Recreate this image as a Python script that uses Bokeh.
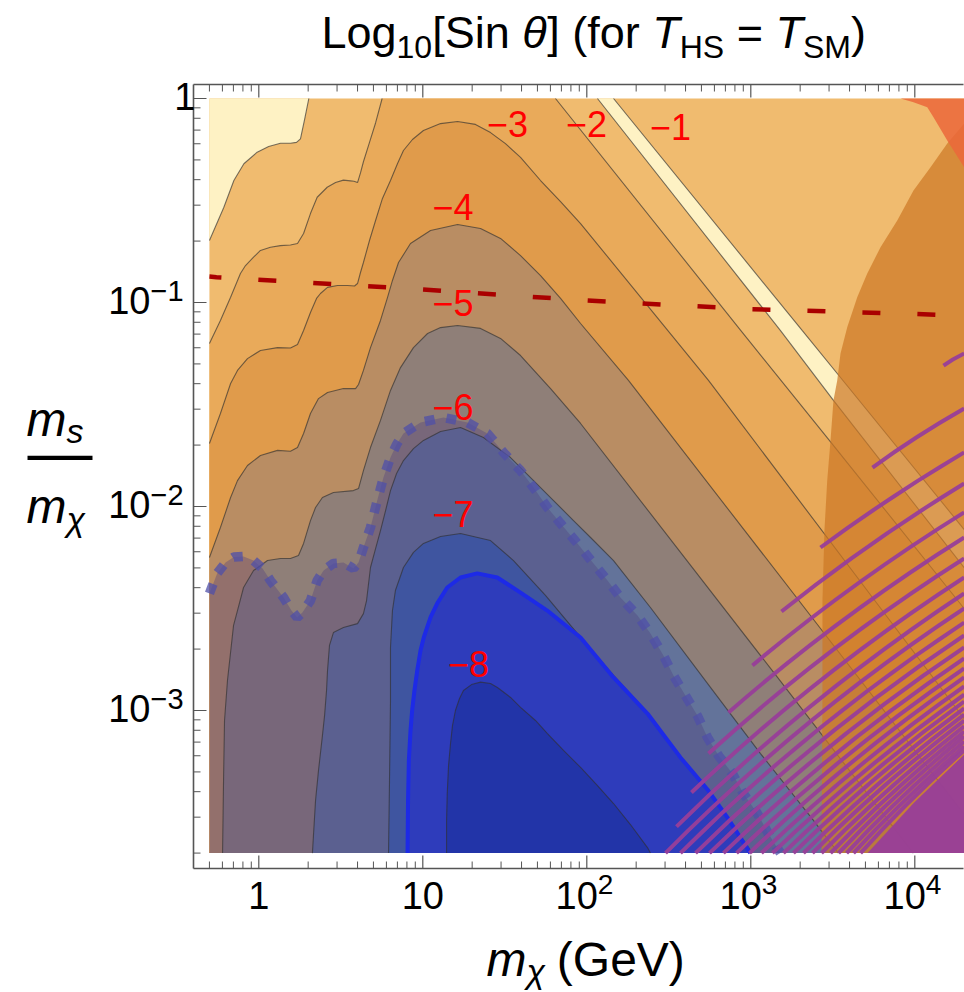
import numpy as np
from bokeh.plotting import figure
from bokeh.models import Range1d, Label
from bokeh.embed import file_html
from bokeh.resources import INLINE

# ---------------------------------------------------------------
# DATA  (all curves as (log10 m_chi [GeV], log10 m_s/m_chi) pairs)
# ---------------------------------------------------------------
X_EDGE = (-0.301, 4.301)      # m_chi 0.5 ... 2e4 GeV
Y_EDGE = (-3.699, 0.0)        # m_s/m_chi 2e-4 ... 1

X_MAJOR = [1, 10, 100, 1000, 10000]
X_MINOR = [0.5, 0.6, 0.7, 0.8, 0.9] + [k * 10 ** d for d in range(0, 4) for k in range(2, 10)]
Y_MAJOR = [1e-3, 1e-2, 1e-1, 1]
Y_MINOR = [k * 10.0 ** d for d in range(-4, 0) for k in range(2, 10)]

BOTTOM_TICK_LABELS = [(1, "1", ""), (10, "10", ""), (100, "10", "2"), (1000, "10", "3"), (10000, "10", "4")]
LEFT_TICK_LABELS = [(1, "1", ""), (0.1, "10", "\u22121"), (0.01, "10", "\u22122"), (0.001, "10", "\u22123")]

C_M1_LEFT = [(0.305, 0.0), (0.280, -0.100), (0.254, -0.198), (0.230, -0.215), (0.193, -0.219),
             (0.132, -0.219), (0.060, -0.235), (-0.010, -0.263), (-0.091, -0.320), (-0.152, -0.402),
             (-0.213, -0.533), (-0.301, -0.696)]
C_M1_RIGHT = [(2.065, 0.0), (3.180, -1.137), (3.504, -1.480), (4.301, -2.300)]
C_STRIPE_EDGE = [(2.163, 0.0), (3.313, -1.137), (3.527, -1.348), (4.301, -2.113)]

C_M2_LEFT = [(0.752, 0.0), (0.712, -0.120), (0.675, -0.215), (0.638, -0.310), (0.620, -0.365),
             (0.602, -0.412), (0.580, -0.406), (0.559, -0.404), (0.516, -0.400), (0.468, -0.412),
             (0.417, -0.435), (0.356, -0.484), (0.315, -0.564), (0.273, -0.662), (0.236, -0.711),
             (0.193, -0.718), (0.132, -0.721), (0.071, -0.729), (0.010, -0.745), (-0.032, -0.778),
             (-0.081, -0.819), (-0.112, -0.858), (-0.172, -0.974), (-0.234, -1.088), (-0.301, -1.201)]
C_M2_RIGHT = [(1.809, 0.0), (2.937, -1.135), (3.468, -1.665), (4.301, -2.500)]

C_M3 = [(-0.301, -1.691), (-0.234, -1.544), (-0.172, -1.397), (-0.130, -1.333), (-0.069, -1.275),
        (0.010, -1.235), (0.114, -1.221), (0.193, -1.223), (0.236, -1.206), (0.273, -1.137),
        (0.315, -1.049), (0.352, -0.980), (0.376, -0.956), (0.419, -0.926), (0.480, -0.917),
        (0.541, -0.917), (0.584, -0.919), (0.602, -0.907), (0.620, -0.853), (0.638, -0.804),
        (0.675, -0.696), (0.712, -0.598), (0.754, -0.490), (0.803, -0.402), (0.846, -0.319),
        (0.882, -0.255), (0.937, -0.201), (1.004, -0.157), (1.108, -0.123), (1.212, -0.113),
        (1.321, -0.127), (1.413, -0.167), (1.504, -0.221), (1.596, -0.289), (1.718, -0.402),
        (1.840, -0.505), (1.962, -0.613), (2.742, -1.382), (3.742, -2.446), (4.301, -3.040)]

C_M4 = [(-0.301, -2.250), (-0.234, -2.103), (-0.172, -1.956), (-0.130, -1.873), (-0.069, -1.799),
        (0.010, -1.750), (0.114, -1.725), (0.193, -1.729), (0.236, -1.711), (0.273, -1.642),
        (0.315, -1.544), (0.364, -1.471), (0.419, -1.441), (0.516, -1.422), (0.590, -1.422),
        (0.608, -1.402), (0.638, -1.333), (0.681, -1.221), (0.742, -1.088), (0.785, -0.975),
        (0.815, -0.892), (0.852, -0.804), (0.925, -0.711), (1.047, -0.647), (1.212, -0.618),
        (1.352, -0.637), (1.474, -0.686), (1.596, -0.770), (1.718, -0.868), (1.840, -0.980),
        (1.962, -1.103), (2.254, -1.382), (3.425, -2.598), (4.301, -3.509)]

C_M5 = [(-0.221, -3.699), (-0.215, -3.343), (-0.209, -3.049), (-0.191, -2.853), (-0.154, -2.583),
        (-0.130, -2.510), (-0.093, -2.397), (-0.032, -2.314), (0.053, -2.265), (0.132, -2.255),
        (0.193, -2.255), (0.242, -2.240), (0.273, -2.181), (0.315, -2.069), (0.346, -2.005),
        (0.388, -1.956), (0.455, -1.931), (0.577, -1.922), (0.608, -1.912), (0.638, -1.824),
        (0.681, -1.711), (0.742, -1.578), (0.803, -1.431), (0.864, -1.319), (0.943, -1.221),
        (1.029, -1.152), (1.108, -1.123), (1.212, -1.113), (1.352, -1.127), (1.474, -1.176),
        (1.596, -1.260), (1.779, -1.422), (1.962, -1.593), (3.163, -2.838), (3.991, -3.699)]

C_M6 = [(0.327, -3.699), (0.346, -3.441), (0.364, -3.294), (0.388, -3.123), (0.401, -3.025),
        (0.413, -2.902), (0.419, -2.804), (0.431, -2.681), (0.455, -2.618), (0.516, -2.593),
        (0.602, -2.574), (0.638, -2.525), (0.657, -2.461), (0.681, -2.299), (0.712, -2.206),
        (0.742, -2.118), (0.773, -2.020), (0.803, -1.922), (0.840, -1.838), (0.882, -1.775),
        (0.943, -1.716), (1.004, -1.676), (1.108, -1.632), (1.230, -1.613), (1.370, -1.662),
        (1.535, -1.760), (1.718, -1.907), (1.919, -2.069), (2.023, -2.152), (2.163, -2.265),
        (2.388, -2.495), (2.754, -2.887), (3.059, -3.211), (3.382, -3.539), (3.534, -3.699)]

C_M7 = [(0.791, -3.699), (0.797, -3.343), (0.803, -2.951), (0.803, -2.691), (0.815, -2.510),
        (0.833, -2.412), (0.882, -2.299), (0.943, -2.225), (1.004, -2.181), (1.108, -2.147),
        (1.230, -2.132), (1.413, -2.167), (1.553, -2.265), (1.748, -2.436), (1.943, -2.623),
        (2.163, -2.828), (2.370, -3.010), (2.571, -3.225), (2.736, -3.382), (2.858, -3.525),
        (3.010, -3.699)]

C_BLUE = [(0.907, -3.699), (0.910, -3.441), (0.915, -3.245), (0.925, -3.098), (0.935, -3.000),
          (0.949, -2.902), (0.966, -2.804), (0.986, -2.706), (1.006, -2.642), (1.047, -2.544),
          (1.088, -2.475), (1.149, -2.397), (1.230, -2.348), (1.332, -2.328), (1.454, -2.348),
          (1.596, -2.422), (1.759, -2.510), (1.962, -2.642), (2.163, -2.838), (2.370, -3.015),
          (2.571, -3.230), (2.736, -3.387), (2.858, -3.525), (2.997, -3.699)]

C_M8 = [(1.145, -3.699), (1.145, -3.539), (1.149, -3.407), (1.157, -3.270), (1.169, -3.162),
        (1.181, -3.074), (1.199, -3.000), (1.224, -2.941), (1.248, -2.902), (1.297, -2.873),
        (1.352, -2.861), (1.413, -2.868), (1.455, -2.887), (1.535, -2.936), (1.596, -2.985),
        (1.687, -3.049), (1.760, -3.113), (1.858, -3.196), (1.962, -3.279), (2.065, -3.368),
        (2.163, -3.456), (2.266, -3.559), (2.370, -3.672), (2.388, -3.699)]

DOTTED = [(-0.301, -2.426), (-0.254, -2.328), (-0.203, -2.275), (-0.152, -2.248), (-0.093, -2.245),
          (-0.032, -2.265), (0.023, -2.304), (0.071, -2.363), (0.151, -2.446), (0.199, -2.510),
          (0.234, -2.544), (0.266, -2.520), (0.315, -2.461), (0.356, -2.363), (0.395, -2.314),
          (0.455, -2.279), (0.516, -2.275), (0.577, -2.304), (0.608, -2.275), (0.638, -2.201),
          (0.681, -2.103), (0.722, -1.971), (0.760, -1.858), (0.803, -1.760), (0.840, -1.696),
          (0.882, -1.642), (0.986, -1.588), (1.126, -1.564), (1.272, -1.588), (1.394, -1.642),
          (1.492, -1.735), (1.596, -1.824), (1.675, -1.907), (1.760, -2.005), (1.840, -2.083),
          (1.943, -2.181), (2.041, -2.279), (2.126, -2.363), (2.205, -2.446), (2.309, -2.534),
          (2.388, -2.623), (2.467, -2.730), (2.528, -2.828), (2.601, -2.926), (2.674, -3.025),
          (2.736, -3.132), (2.803, -3.221), (2.888, -3.309), (2.955, -3.407), (3.040, -3.505),
          (3.107, -3.603), (3.180, -3.699)]

DASHED = [(-0.301, -0.873), (-0.258, -0.876), (0.998, -0.936), (1.992, -0.990), (2.986, -1.032),
          (3.992, -1.056), (4.301, -1.066)]

RIGHT_REGION_EDGE = [(4.301, -0.123), (4.198, -0.221), (4.096, -0.337), (3.992, -0.451), (3.893, -0.598),
                     (3.791, -0.729), (3.710, -0.858), (3.649, -0.974), (3.588, -1.121), (3.547, -1.250),
                     (3.527, -1.382), (3.504, -1.480), (3.486, -1.676), (3.466, -1.873), (3.449, -2.118),
                     (3.437, -2.461), (3.437, -2.951), (3.431, -3.699)]

CORNER_REGION_EDGE = [(3.913, 0.0), (3.992, -0.018), (4.076, -0.043), (4.114, -0.092), (4.198, -0.206),
                      (4.301, -0.337)]

ARC_START = [(4.175, -1.309), (3.742, -1.809), (3.425, -2.201), (3.187, -2.515), (3.010, -2.779),
             (2.864, -3.010), (2.742, -3.211), (2.638, -3.402), (2.547, -3.569), (2.480, -3.699),
             (2.571, -3.699), (2.663, -3.699), (2.748, -3.699), (2.833, -3.699), (2.913, -3.699),
             (2.992, -3.699), (3.065, -3.699), (3.132, -3.699), (3.199, -3.699), (3.260, -3.699),
             (3.321, -3.699), (3.376, -3.699), (3.431, -3.699), (3.486, -3.699), (3.535, -3.699),
             (3.584, -3.699), (3.626, -3.699), (3.669, -3.699)]
ARC_MID = [(4.233, -1.279), (4.013, -1.660), (3.852, -1.961), (3.728, -2.189), (3.635, -2.388),
           (3.558, -2.560), (3.493, -2.708), (3.436, -2.846), (3.386, -2.965), (3.350, -3.063),
           (3.399, -3.101), (3.448, -3.136), (3.494, -3.169), (3.540, -3.198), (3.581, -3.225),
           (3.623, -3.249), (3.662, -3.273), (3.697, -3.295), (3.732, -3.313), (3.763, -3.331),
           (3.795, -3.348), (3.823, -3.363), (3.852, -3.379), (3.880, -3.392), (3.905, -3.405),
           (3.930, -3.418), (3.952, -3.431), (3.974, -3.442)]
ARC_END = [(4.301, v) for v in
           [-1.250, -1.520, -1.735, -1.887, -2.029, -2.152, -2.255, -2.348, -2.426, -2.500,
            -2.569, -2.632, -2.691, -2.745, -2.794, -2.838, -2.882, -2.922, -2.956, -2.990,
            -3.020, -3.049, -3.078, -3.103, -3.127, -3.152, -3.176, -3.196]]
ARC_SOLID = [(3.712, -3.699), (3.996, -3.451), (4.301, -3.216), (4.301, -3.699)]

CONTOUR_LABELS = ["\u22121", "\u22122", "\u22123", "\u22124", "\u22125", "\u22126", "\u22127", "\u22128"]
CONTOUR_LABEL_POS = [(2.510, -0.142), (1.998, -0.127), (1.517, -0.123), (1.184, -0.532),
                     (1.184, -1.000), (1.184, -1.510), (1.184, -2.039), (1.279, -2.770)]

# ---------------------------------------------------------------
# LAYOUT / STYLE
# ---------------------------------------------------------------
W, H = 964, 992
PX_X1, PX_DEC_X = 258.3, 164.0   # pixel column of m_chi = 1 GeV, pixels per decade
PX_Y1, PX_DEC_Y = 98.0, 204.0    # pixel row of ratio = 1, pixels per decade
AX_LEFT, AX_RIGHT, AX_TOP, AX_BOTTOM = 193, 963, 84, 868   # frame lines (pixels)

FONT = "Liberation Sans"
COL_CREAM = "#FEF2C4"
COL_BAND = ["#F0BB6F", "#E9AA5A", "#E09B4B", "#B98D63", "#8F7F78", "#63739A"]
COL_INNER = ["#3F55A0", "#2E3CBB", "#2234A8"]
COL_LINE = "#2F2F2F"
COL_AXIS = "#555555"

ADV = {'L': .556, 'o': .556, 'g': .556, '0': .556, '1': .556, '2': .556, '3': .556, '4': .556,
       '[': .278, ']': .278, 'S': .667, 'i': .222, 'n': .556, ' ': .278, '\u03b8': .556,
       '(': .333, ')': .333, 'f': .278, 'r': .333, 'T': .611, 'H': .722, '=': .584, 'M': .833,
       'm': .833, 's': .5, '\u03c7': .5, 'G': .778, 'e': .556, 'V': .667, '\u2212': .584}


def px_x(xp):
    return 10 ** ((xp - PX_X1) / PX_DEC_X)


def px_y(yp):
    return 10 ** ((PX_Y1 - yp) / PX_DEC_Y)


def lin(pts):
    return [10 ** a for a, b in pts], [10 ** b for a, b in pts]


x0, x1 = X_EDGE
y0, y1 = Y_EDGE

p = figure(width=W, height=H, x_axis_type="log", y_axis_type="log",
           x_range=Range1d(px_x(0), px_x(W)), y_range=Range1d(px_y(H), px_y(0)),
           x_axis_location=None, y_axis_location=None,
           output_backend="svg", toolbar_location=None,
           min_border=0, min_border_left=0, min_border_right=0, min_border_top=0, min_border_bottom=0)
p.outline_line_color = None
p.xgrid.visible = False
p.ygrid.visible = False
p.background_fill_color = "white"
p.border_fill_color = "white"


def patch(pts, color, alpha=1.0):
    xs, ys = lin(pts)
    p.patch(xs, ys, fill_color=color, fill_alpha=alpha, line_color=None)


def cline(pts, color=COL_LINE, width=1.1, alpha=0.65, **kw):
    xs, ys = lin(pts)
    p.line(xs, ys, line_color=color, line_width=width, line_alpha=alpha, **kw)


# filled contour bands
patch([(x0, y0), (x1, y0), (x1, y1), (x0, y1)], COL_BAND[0])
patch(C_M1_LEFT + [(x0, y1)], COL_CREAM)
patch(C_M1_RIGHT + C_STRIPE_EDGE[::-1], COL_CREAM)
patch(C_M2_LEFT[::-1] + C_M2_RIGHT + [(x1, y0), (x0, y0)], COL_BAND[1])
patch(C_M3 + [(x1, y0), (x0, y0)], COL_BAND[2])
patch(C_M4 + [(x1, y0), (x0, y0)], COL_BAND[3])
patch(C_M5, COL_BAND[4])
patch(C_M6, COL_BAND[5])
patch(DOTTED + [(x0, y0)], "#4C3C7D", 0.35)
patch(C_M7, COL_INNER[0])
patch(C_BLUE, COL_INNER[1])
patch(C_M8, COL_INNER[2])

for c in [C_M1_LEFT, C_M1_RIGHT, C_STRIPE_EDGE, C_M2_LEFT, C_M2_RIGHT, C_M3, C_M4, C_M5, C_M6, C_M7, C_M8]:
    cline(c)

patch(RIGHT_REGION_EDGE + [(x1, y0)], "#CC7825", 0.71)
patch(CORNER_REGION_EDGE + [(x1, y1)], "#EB673B", 0.85)

cline(DOTTED, color="#4F4FA8", width=9.5, alpha=0.75, line_dash="10 12")
cline(C_BLUE, color="#1D2AE6", width=4, alpha=1.0)

cx, cy, sx0, sy0, sx1, sy1 = [], [], [], [], [], []
for s, m, e in zip(ARC_START, ARC_MID, ARC_END):
    ccx = 2 * m[0] - 0.5 * (s[0] + e[0])
    ccy = 2 * m[1] - 0.5 * (s[1] + e[1])
    sx0.append(10 ** s[0]); sy0.append(10 ** s[1])
    sx1.append(10 ** e[0]); sy1.append(10 ** e[1])
    cx.append(10 ** ccx); cy.append(10 ** ccy)
p.quadratic(x0=sx0, y0=sy0, x1=sx1, y1=sy1, cx=cx, cy=cy,
            line_color="#983E99", line_width=4, line_alpha=0.95)
patch(ARC_SOLID, "#983E99", 0.95)

cline(DASHED, color="#AA0000", width=4.5, alpha=1.0, line_dash="18 37", line_dash_offset=6)

for txt, (lx, ly) in zip(CONTOUR_LABELS, CONTOUR_LABEL_POS):
    p.add_layout(Label(x=10 ** lx, y=10 ** ly, text=txt, text_color="#FF0000", text_font=FONT,
                       text_font_size="36px", text_align="center", text_baseline="middle"))

# ---------------- frame, ticks ----------------
fx0, fx1, fyt, fyb = px_x(AX_LEFT), px_x(AX_RIGHT), px_y(AX_TOP), px_y(AX_BOTTOM)
p.segment(x0=[fx0, fx0, fx0], y0=[fyb, fyb, fyt], x1=[fx0, fx1, fx1], y1=[fyt, fyb, fyt],
          line_color=COL_AXIS, line_width=1.6)


def ticks(values, length, width):
    vx0, vy0, vx1, vy1 = [], [], [], []
    for v in values:
        vx0 += [v, v]; vx1 += [v, v]
        vy0 += [fyb, fyt]; vy1 += [px_y(AX_BOTTOM - length), px_y(AX_TOP + length)]
    p.segment(x0=vx0, y0=vy0, x1=vx1, y1=vy1, line_color=COL_AXIS, line_width=width)


def yticks(values, length, width):
    p.segment(x0=[fx0] * len(values), y0=values, x1=[px_x(AX_LEFT + length)] * len(values), y1=values,
              line_color=COL_AXIS, line_width=width)


ticks(X_MAJOR, 13, 1.2)
ticks(X_MINOR, 7, 1.0)
yticks(Y_MAJOR, 13, 1.2)
yticks(Y_MINOR, 7, 1.0)


# ---------------- texts ----------------
def text_width(s, size):
    return sum(ADV.get(ch, 0.556) for ch in s) * size


def lbl(xp, yp, text, size, style="normal", align="left", color="black"):
    # yp is the wanted baseline row; labels are anchored at their middle
    p.add_layout(Label(x=px_x(xp), y=px_y(yp - 0.40 * size), text=text, text_font=FONT,
                       text_font_size=f"{size}px", text_font_style=style, text_align=align,
                       text_baseline="middle", text_color=color))


def rich(x, y, parts):
    for text, size, style, dy in parts:
        lead = len(text) - len(text.lstrip(" "))
        body = text.strip(" ")
        if body:
            lbl(x + text_width(" " * lead, size), y + dy, body, size, style)
        x += text_width(text, size)


rich(321, 50, [("Log", 45, "normal", 0), ("10", 32, "normal", 9), ("[Sin ", 45, "normal", 0),
               ("\u03b8", 45, "italic", 0), ("] (for ", 45, "normal", 0), ("T", 45, "italic", 0),
               ("HS", 32, "normal", 9), (" = ", 45, "normal", 0), ("T", 45, "italic", 0),
               ("SM", 32, "normal", 9), (")", 45, "normal", 0)])

rich(486, 978, [("m", 48, "italic", 0), ("\u03c7", 34, "italic", 6), (" (GeV)", 48, "normal", 0)])

rich(26, 438, [("m", 48, "italic", 0), ("s", 34, "italic", 6)])
rich(26, 525, [("m", 48, "italic", 0), ("\u03c7", 34, "italic", 7)])
lbl(27, 477, "\u2014", 65)

for val, base, sup in BOTTOM_TICK_LABELS:
    xp = PX_X1 + PX_DEC_X * np.log10(val)
    if sup:
        lbl(xp + 11, 910, base, 38, align="right")
        lbl(xp + 11, 895, sup, 28, align="left")
    else:
        lbl(xp, 910, base, 38, align="center")

for val, base, sup in LEFT_TICK_LABELS:
    yp = PX_Y1 - PX_DEC_Y * np.log10(val)
    if sup:
        lbl(150, yp + 13.5, base, 38, align="right")
        lbl(150, yp, sup, 29, align="left")
    else:
        lbl(195, yp + 13.5, base, 38, align="right")

open("out.html", "w").write(file_html(p, INLINE))
